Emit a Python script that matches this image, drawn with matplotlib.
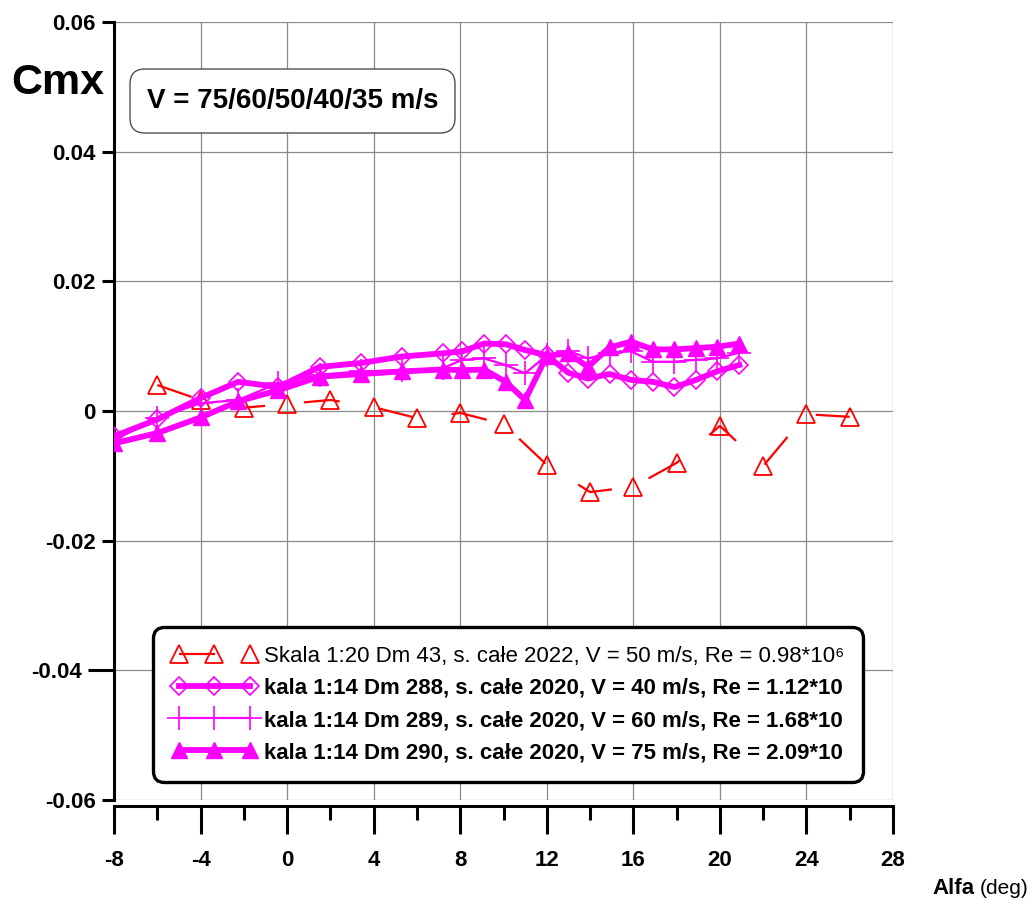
import matplotlib
matplotlib.use('Agg')
import matplotlib.pyplot as plt
from matplotlib.patches import FancyBboxPatch
from matplotlib.ticker import FixedLocator

plt.rcParams['lines.scale_dashes'] = False

# ---------------- data ----------------
alpha_red = [-6, -4, -2, 0, 2, 4, 6, 8, 10, 12, 14, 16, 18, 20, 22, 24, 26]
cmx_red = [0.0040, 0.0017, 0.0005, 0.0011, 0.0017, 0.0006, -0.0011, -0.0003, -0.0020,
           -0.0083, -0.0125, -0.0117, -0.0080, -0.0023, -0.0085, -0.0005, -0.0009]

alpha_mag = [-8, -6, -4, -2.26, -0.4, 1.5, 3.4, 5.3, 7.2, 8.1, 9.1, 10.1, 11.0,
             12.0, 13.0, 13.9, 14.9, 15.9, 16.9, 17.9, 18.9, 19.85, 20.9]
cmx_288 = [-0.0039, -0.0013, 0.0020, 0.0045, 0.0037, 0.0068, 0.0074, 0.0084, 0.0089,
           0.0092, 0.0104, 0.0103, 0.0094, 0.0086, 0.0059, 0.0050, 0.0057, 0.0048,
           0.0045, 0.0037, 0.0048, 0.0061, 0.0071]
cmx_289 = [-0.0045, -0.0011, 0.0012, 0.0017, 0.0043, 0.0056, 0.0061, 0.0063, 0.0066,
           0.0079, 0.0081, 0.0071, 0.0058, 0.0086, 0.0093, 0.0081, 0.0090, 0.0092,
           0.0076, 0.0076, 0.0079, 0.0081, 0.0090]
cmx_290 = [-0.0050, -0.0034, -0.0010, 0.0015, 0.0032, 0.0053, 0.0057, 0.0061, 0.0064,
           0.0063, 0.0064, 0.0045, 0.0017, 0.0085, 0.0089, 0.0068, 0.0098, 0.0107,
           0.0095, 0.0095, 0.0097, 0.0099, 0.0104]

series_labels = [
    "Skala 1:20 Dm 43, s. całe 2022, V = 50 m/s, Re = 0.98*10\u2076",
    "kala 1:14 Dm 288, s. całe 2020, V = 40 m/s, Re = 1.12*10",
    "kala 1:14 Dm 289, s. całe 2020, V = 60 m/s, Re = 1.68*10",
    "kala 1:14 Dm 290, s. całe 2020, V = 75 m/s, Re = 2.09*10",
]

x_ticks = [-8, -4, 0, 4, 8, 12, 16, 20, 24, 28]
x_tick_labels = ['-8', '-4', '0', '4', '8', '12', '16', '20', '24', '28']
x_minor_ticks = [-6, -2, 2, 6, 10, 14, 18, 22, 26]
y_ticks = [-0.06, -0.04, -0.02, 0, 0.02, 0.04, 0.06]
y_tick_labels = ['-0.06', '-0.04', '-0.02', '0', '0.02', '0.04', '0.06']

title_text = "V = 75/60/50/40/35 m/s"
y_label = "Cmx"
x_label_bold = "Alfa"
x_label_unit = "(deg)"

# ---------------- figure ----------------
W, H = 1036, 901
fig = plt.figure(figsize=(W / 100, H / 100), dpi=100)
ax = fig.add_axes([114 / W, 1 - 800 / H, (893 - 114) / W, (800 - 22) / H])

RED = '#FF0000'
MAG = '#FF00FF'
SANS = ['Liberation Sans', 'DejaVu Sans']

# spines first (set_position resets the ticks)
ax.spines['top'].set_visible(False)
ax.spines['right'].set_visible(False)
ax.spines['left'].set_linewidth(2.2)
ax.spines['bottom'].set_linewidth(2.2)
ax.spines['bottom'].set_position(('outward', 4))

l_red, = ax.plot(alpha_red, cmx_red, color=RED, lw=1.6, marker='^', ms=13,
                 mfc='none', mec=RED, mew=1.3, dashes=(26, 28), zorder=3,
                 label=series_labels[0])
l_288, = ax.plot(alpha_mag, cmx_288, color=MAG, lw=4.2, marker='D', ms=9.5,
                 mfc='none', mec=MAG, mew=1.2, zorder=4, label=series_labels[1])
l_289, = ax.plot(alpha_mag, cmx_289, color=MAG, lw=1.6, marker='+', ms=17,
                 mec=MAG, mew=1.2, zorder=5, label=series_labels[2])
l_290, = ax.plot(alpha_mag, cmx_290, color=MAG, lw=4.2, marker='^', ms=12,
                 mfc=MAG, mec=MAG, zorder=6, label=series_labels[3])

ax.set_xlim(x_ticks[0], x_ticks[-1])
ax.set_ylim(y_ticks[0], y_ticks[-1])

# ticks
ax.tick_params(axis='x', which='major', direction='out', length=20, width=2.2,
               pad=12, labelsize=16)
ax.tick_params(axis='x', which='minor', direction='out', length=10, width=2.2)
ax.tick_params(axis='y', which='major', direction='out', length=9, width=2.2,
               pad=4, labelsize=16)
ax.tick_params(axis='y', which='minor', direction='out', length=19, width=2.2,
               pad=4, labelsize=16)

tick_font = dict(fontsize=16, fontweight='bold', family=SANS)
ax.set_xticks(x_ticks, labels=x_tick_labels, **tick_font)
ax.xaxis.set_minor_locator(FixedLocator(x_minor_ticks))

special = '-0.04'
y_major = [v for v, s in zip(y_ticks, y_tick_labels) if s != special]
y_major_lab = [s for s in y_tick_labels if s != special]
y_minor = [v for v, s in zip(y_ticks, y_tick_labels) if s == special]
y_minor_lab = [s for s in y_tick_labels if s == special]
ax.set_yticks(y_major, labels=y_major_lab, **tick_font)
ax.set_yticks(y_minor, labels=y_minor_lab, minor=True, **tick_font)

# grid
ax.set_axisbelow(True)
ax.grid(True, which='major', color='#8a8a8a', lw=0.9)
ax.yaxis.grid(True, which='minor', color='#8a8a8a', lw=0.9)

# legend
leg = ax.legend(handles=[l_red, l_288, l_289, l_290], loc='upper left',
                bbox_to_anchor=(0.050, 0.2224), borderaxespad=0, numpoints=3,
                prop=dict(family=SANS, weight='bold', size=16),
                handlelength=3.8, handletextpad=0.35, borderpad=0.85,
                labelspacing=0.5, fancybox=True, framealpha=1)
leg.get_frame().set_boxstyle('round,pad=0,rounding_size=0.5')
leg.get_frame().set_edgecolor('black')
leg.get_frame().set_linewidth(2.4)
leg.get_texts()[0].set_fontweight('normal')
leg.set_zorder(10)

# title box
box = FancyBboxPatch((1.30, (H - 133) / 100), 3.25, 0.64,
                     boxstyle='round,pad=0,rounding_size=0.15',
                     transform=fig.dpi_scale_trans, facecolor='white',
                     edgecolor='#505050', lw=1.0, zorder=20)
fig.add_artist(box)
fig.text(292.5 / W, 1 - 101 / H, title_text, ha='center', va='center',
         fontsize=20, fontweight='bold', family=SANS, zorder=21)

# axis labels
fig.text(58 / W, 1 - 83 / H, y_label, ha='center', va='center', fontsize=31,
         fontweight='bold', family=SANS)
fig.text(975 / W, 1 - 888 / H, x_label_bold, ha='right', va='center', fontsize=16,
         fontweight='bold', family=SANS)
fig.text(980 / W, 1 - 888 / H, x_label_unit, ha='left', va='center', fontsize=15,
         family=SANS)

fig.savefig('out.png', dpi=100)
